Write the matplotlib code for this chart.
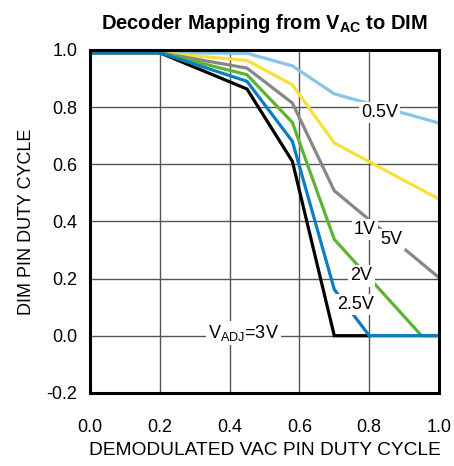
import matplotlib
matplotlib.use("Agg")
import matplotlib.pyplot as plt

plt.rcParams['font.family'] = ['Liberation Sans', 'DejaVu Sans']
plt.rcParams['mathtext.fontset'] = 'custom'
plt.rcParams['mathtext.rm'] = 'Liberation Sans'
plt.rcParams['mathtext.bf'] = 'Liberation Sans:bold'
plt.rcParams['mathtext.default'] = 'regular'

# demodulated VAC duty cycle breakpoints and DIM duty cycle per V_ADJ curve
x_05 = [0.0, 0.2, 0.45, 0.58, 0.70, 1.0]
y_05 = [0.99, 0.99, 0.988, 0.944, 0.846, 0.744]
x_yel = [0.0, 0.2, 0.45, 0.58, 0.70, 1.0]
y_yel = [0.99, 0.99, 0.963, 0.878, 0.674, 0.478]
x_gry = [0.0, 0.2, 0.45, 0.58, 0.70, 1.0]
y_gry = [0.99, 0.99, 0.936, 0.814, 0.507, 0.203]
x_2v = [0.0, 0.2, 0.45, 0.58, 0.70, 0.95, 1.0]
y_2v = [0.99, 0.99, 0.913, 0.746, 0.337, 0.0, 0.0]
x_3v = [0.0, 0.2, 0.45, 0.58, 0.70, 0.80]
y_3v = [0.99, 0.99, 0.863, 0.61, 0.0, 0.0]
x_25 = [0.0, 0.2, 0.45, 0.58, 0.70, 0.80, 1.0]
y_25 = [0.99, 0.99, 0.89, 0.68, 0.162, 0.0, 0.0]

series = [
    (x_05, y_05, '#86c5e8'),
    (x_yel, y_yel, '#f8e03c'),
    (x_gry, y_gry, '#878787'),
    (x_2v, y_2v, '#5cb531'),
    (x_3v, y_3v, '#000000'),
    (x_25, y_25, '#0b7dc2'),
]

# curve labels: text, x, y
labels = [
    ('0.5V', 0.83, 0.78),
    ('1V', 0.788, 0.372),
    ('5V', 0.864, 0.337),
    ('2V', 0.778, 0.209),
    ('2.5V', 0.76, 0.11),
    ('V$_{ADJ}$=3V', 0.44, 0.01),
]

fig = plt.figure(figsize=(4.54, 4.66), dpi=100)
ax = fig.add_axes([0.198, 0.157, 0.769, 0.736])

for xs, ys, c in series:
    ax.plot(xs, ys, color=c, lw=2.3, solid_joinstyle='miter', zorder=3)

for txt, lx, ly in labels:
    ax.text(lx, ly, txt, fontsize=13, ha='center', va='center', zorder=5,
            bbox=dict(facecolor='white', edgecolor='none', pad=1.5))

ax.set_xlim(0, 1.0)
ax.set_ylim(-0.2, 1.0)
ax.set_xticks([0, 0.2, 0.4, 0.6, 0.8, 1.0])
ax.set_yticks([-0.2, 0, 0.2, 0.4, 0.6, 0.8, 1.0])
ax.set_xticklabels(['0.0', '0.2', '0.4', '0.6', '0.8', '1.0'])
ax.set_yticklabels(['-0.2', '0.0', '0.2', '0.4', '0.6', '0.8', '1.0'])
ax.tick_params(length=0, labelsize=13)
ax.tick_params(axis='x', pad=19)
ax.tick_params(axis='y', pad=9)
ax.grid(True, color='#555555', lw=1.0, zorder=1)
for s in ax.spines.values():
    s.set_linewidth(2.2)
    s.set_zorder(6)

ax.set_xlabel('DEMODULATED VAC PIN DUTY CYCLE', fontsize=13.8, labelpad=4)
ax.set_ylabel('DIM PIN DUTY CYCLE', fontsize=13, labelpad=8)
ax.set_title('Decoder Mapping from V$_{\\mathbf{AC}}$ to DIM', fontsize=14.5,
             fontweight='bold', pad=15)

fig.savefig('out.png', dpi=100)
